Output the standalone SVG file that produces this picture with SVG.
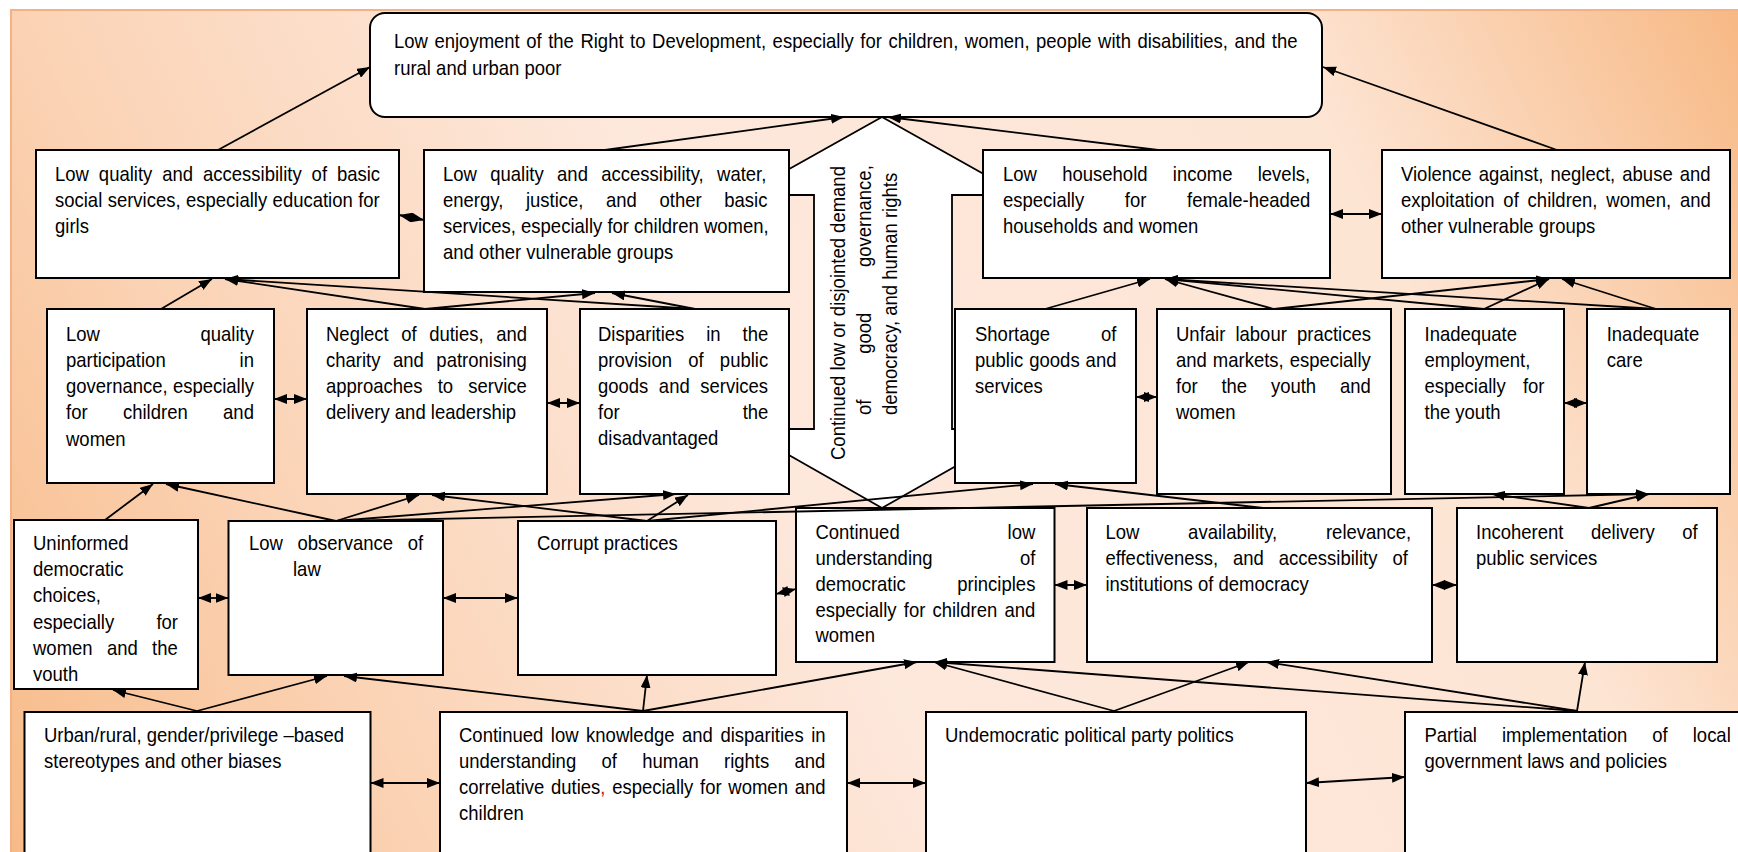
<svg xmlns="http://www.w3.org/2000/svg" width="1738" height="852" viewBox="0 0 1738 852">
<defs>
<linearGradient id="bg" gradientUnits="userSpaceOnUse" x1="11" y1="852" x2="1738" y2="10">
<stop offset="0" stop-color="#f7bb88"/>
<stop offset="0.2" stop-color="#fbd3b5"/>
<stop offset="0.45" stop-color="#fde8dc"/>
<stop offset="0.78" stop-color="#fde5d4"/>
<stop offset="1" stop-color="#f7b985"/>
</linearGradient>
<marker id="ah" viewBox="0 0 13 10" refX="13" refY="5" markerWidth="13" markerHeight="10" markerUnits="userSpaceOnUse" orient="auto-start-reverse">
<path d="M0,0 L13,5 L0,10 Z" fill="#000"/>
</marker>
<clipPath id="clipY"><rect x="14" y="520" width="184" height="161"/></clipPath>
</defs>
<style>
.box{fill:#fff;stroke:#000;stroke-width:2}
.t{font-family:"Liberation Sans",Arial,sans-serif;font-size:20px;fill:#000}
.c{stroke:#000;stroke-width:1.8;fill:none;marker-end:url(#ah)}
.d{stroke:#000;stroke-width:1.8;fill:none;marker-start:url(#ah);marker-end:url(#ah)}
</style>
<rect x="11" y="10" width="1740" height="860" fill="url(#bg)" stroke="#f4b183" stroke-width="2"/>
<g id="central-arrow">
<path d="M882,117 L1021,195 L952,195 L952,429 L1021,429 L882,508 L743,429 L814,429 L814,195 L743,195 Z" fill="#fff" stroke="#000" stroke-width="1.8"/>
<text class="t" transform="translate(845,460) rotate(-90) scale(0.925,1)">Continued low or disjointed demand</text>
<text class="t" transform="translate(871,415) rotate(-90) scale(0.925,1)" style="word-spacing:43.9px">of good governance,</text>
<text class="t" transform="translate(897,415) rotate(-90) scale(0.925,1)">democracy, and human rights</text>
</g>
<g id="n0">
<rect class="box" x="370" y="13" width="952" height="104" rx="15"/>
<text class="t" transform="translate(394,47.5) scale(0.925,1)" style="word-spacing:1.5px">Low enjoyment of the Right to Development, especially for children, women, people with disabilities, and the</text>
<text class="t" transform="translate(394,74.5) scale(0.925,1)">rural and urban poor</text>
</g>
<g id="n1">
<rect class="box" x="36" y="150" width="363" height="128"/>
<text class="t" transform="translate(55,181) scale(0.925,1)" style="word-spacing:5.2px">Low quality and accessibility of basic</text>
<text class="t" transform="translate(55,207) scale(0.925,1)" style="word-spacing:0.3px">social services, especially education for</text>
<text class="t" transform="translate(55,233) scale(0.925,1)">girls</text>
</g>
<g id="n2">
<rect class="box" x="424" y="150" width="365" height="142"/>
<text class="t" transform="translate(443,181) scale(0.925,1)" style="word-spacing:8.9px">Low quality and accessibility, water,</text>
<text class="t" transform="translate(443,207) scale(0.925,1)" style="word-spacing:18.9px">energy, justice, and other basic</text>
<text class="t" transform="translate(443,233) scale(0.925,1)">services, especially for children women,</text>
<text class="t" transform="translate(443,259) scale(0.925,1)">and other vulnerable groups</text>
</g>
<g id="n3">
<rect class="box" x="983" y="150" width="347" height="128"/>
<text class="t" transform="translate(1003,181) scale(0.925,1)" style="word-spacing:21.8px">Low household income levels,</text>
<text class="t" transform="translate(1003,207) scale(0.925,1)" style="word-spacing:38.4px">especially for female-headed</text>
<text class="t" transform="translate(1003,233) scale(0.925,1)">households and women</text>
</g>
<g id="n3b">
<rect class="box" x="1382" y="150" width="348" height="128"/>
<text class="t" transform="translate(1401,181) scale(0.925,1)" style="word-spacing:2.1px">Violence against, neglect, abuse and</text>
<text class="t" transform="translate(1401,207) scale(0.925,1)" style="word-spacing:4px">exploitation of children, women, and</text>
<text class="t" transform="translate(1401,233) scale(0.925,1)">other vulnerable groups</text>
</g>
<g id="n4">
<rect class="box" x="47" y="309" width="227" height="174"/>
<text class="t" transform="translate(66,341) scale(0.925,1)" style="word-spacing:103.2px">Low quality</text>
<text class="t" transform="translate(66,367) scale(0.925,1)" style="word-spacing:74.3px">participation in</text>
<text class="t" transform="translate(66,393) scale(0.925,1)">governance, especially</text>
<text class="t" transform="translate(66,419) scale(0.925,1)" style="word-spacing:32.7px">for children and</text>
<text class="t" transform="translate(66,446) scale(0.925,1)">women</text>
</g>
<g id="n5">
<rect class="box" x="307" y="309" width="240" height="185"/>
<text class="t" transform="translate(326,341) scale(0.925,1)" style="word-spacing:8px">Neglect of duties, and</text>
<text class="t" transform="translate(326,367) scale(0.925,1)" style="word-spacing:8px">charity and patronising</text>
<text class="t" transform="translate(326,393) scale(0.925,1)" style="word-spacing:10.8px">approaches to service</text>
<text class="t" transform="translate(326,419) scale(0.925,1)">delivery and leadership</text>
</g>
<g id="n6">
<rect class="box" x="580" y="309" width="209" height="185"/>
<text class="t" transform="translate(598,341) scale(0.925,1)" style="word-spacing:18.2px">Disparities in the</text>
<text class="t" transform="translate(598,367) scale(0.925,1)" style="word-spacing:12px">provision of public</text>
<text class="t" transform="translate(598,393) scale(0.925,1)" style="word-spacing:5.8px">goods and services</text>
<text class="t" transform="translate(598,419) scale(0.925,1)" style="word-spacing:127.5px">for the</text>
<text class="t" transform="translate(598,445) scale(0.925,1)">disadvantaged</text>
</g>
<g id="n7">
<rect class="box" x="955" y="309" width="181" height="174"/>
<text class="t" transform="translate(975,341) scale(0.925,1)" style="word-spacing:49.6px">Shortage of</text>
<text class="t" transform="translate(975,367) scale(0.925,1)" style="word-spacing:0.9px">public goods and</text>
<text class="t" transform="translate(975,393) scale(0.925,1)">services</text>
</g>
<g id="n8">
<rect class="box" x="1157" y="309" width="234" height="185"/>
<text class="t" transform="translate(1176,341) scale(0.925,1)" style="word-spacing:5.4px">Unfair labour practices</text>
<text class="t" transform="translate(1176,367) scale(0.925,1)" style="word-spacing:0.9px">and markets, especially</text>
<text class="t" transform="translate(1176,393) scale(0.925,1)" style="word-spacing:20.2px">for the youth and</text>
<text class="t" transform="translate(1176,419) scale(0.925,1)">women</text>
</g>
<g id="n9">
<rect class="box" x="1405" y="309" width="159" height="185"/>
<text class="t" transform="translate(1424.5,341) scale(0.925,1)">Inadequate</text>
<text class="t" transform="translate(1424.5,367) scale(0.925,1)">employment,</text>
<text class="t" transform="translate(1424.5,393) scale(0.925,1)" style="word-spacing:13.1px">especially for</text>
<text class="t" transform="translate(1424.5,419) scale(0.925,1)">the youth</text>
</g>
<g id="n10">
<rect class="box" x="1587" y="309" width="143" height="185"/>
<text class="t" transform="translate(1606.7,341) scale(0.925,1)">Inadequate</text>
<text class="t" transform="translate(1606.7,367) scale(0.925,1)">care</text>
</g>
<g id="n11">
<rect class="box" x="14" y="520" width="184" height="169"/>
<g clip-path="url(#clipY)">
<text class="t" transform="translate(33,550) scale(0.925,1)">Uninformed</text>
<text class="t" transform="translate(33,576) scale(0.925,1)">democratic</text>
<text class="t" transform="translate(33,602) scale(0.925,1)">choices,</text>
<text class="t" transform="translate(33,628.5) scale(0.925,1)" style="word-spacing:40.1px">especially for</text>
<text class="t" transform="translate(33,655) scale(0.925,1)" style="word-spacing:9.9px">women and the</text>
<text class="t" transform="translate(33,681) scale(0.925,1)">youth</text>
</g>
</g>
<g id="n12">
<rect class="box" x="228.5" y="521" width="214.5" height="154"/>
<text class="t" transform="translate(249,550) scale(0.925,1)" style="word-spacing:10.2px">Low observance of</text>
<text class="t" transform="translate(293,576) scale(0.925,1)">law</text>
</g>
<g id="n13">
<rect class="box" x="518" y="521" width="258" height="154"/>
<text class="t" transform="translate(537,550) scale(0.925,1)">Corrupt practices</text>
</g>
<g id="n14">
<rect class="box" x="796" y="508" width="258.5" height="154"/>
<text class="t" transform="translate(815.4,539) scale(0.925,1)" style="word-spacing:111.1px">Continued low</text>
<text class="t" transform="translate(815.4,565) scale(0.925,1)" style="word-spacing:88.9px">understanding of</text>
<text class="t" transform="translate(815.4,591) scale(0.925,1)" style="word-spacing:50.1px">democratic principles</text>
<text class="t" transform="translate(815.4,617) scale(0.925,1)" style="word-spacing:2.2px">especially for children and</text>
<text class="t" transform="translate(815.4,642) scale(0.925,1)">women</text>
</g>
<g id="n15">
<rect class="box" x="1087" y="508" width="345" height="154"/>
<text class="t" transform="translate(1105.4,539) scale(0.925,1)" style="word-spacing:47.2px">Low availability, relevance,</text>
<text class="t" transform="translate(1105.4,565) scale(0.925,1)" style="word-spacing:10.6px">effectiveness, and accessibility of</text>
<text class="t" transform="translate(1105.4,591) scale(0.925,1)">institutions of democracy</text>
</g>
<g id="n16">
<rect class="box" x="1457" y="508" width="260" height="154"/>
<text class="t" transform="translate(1476,539) scale(0.925,1)" style="word-spacing:24.3px">Incoherent delivery of</text>
<text class="t" transform="translate(1476,565) scale(0.925,1)">public services</text>
</g>
<g id="n17">
<rect class="box" x="24.5" y="712" width="346" height="190"/>
<text class="t" transform="translate(44,742) scale(0.925,1)">Urban/rural, gender/privilege –based</text>
<text class="t" transform="translate(44,768) scale(0.925,1)">stereotypes and other biases</text>
</g>
<g id="n18">
<rect class="box" x="440" y="712" width="407" height="190"/>
<text class="t" transform="translate(459,742) scale(0.925,1)" style="word-spacing:2.6px">Continued low knowledge and disparities in</text>
<text class="t" transform="translate(459,768) scale(0.925,1)" style="word-spacing:21.8px">understanding of human rights and</text>
<text class="t" transform="translate(459,794) scale(0.925,1)" style="word-spacing:1.7px">correlative duties<tspan fill="#e00000">,</tspan> especially for women and</text>
<text class="t" transform="translate(459,820) scale(0.925,1)">children</text>
</g>
<g id="n19">
<rect class="box" x="926" y="712" width="380" height="190"/>
<text class="t" transform="translate(945,742) scale(0.925,1)">Undemocratic political party politics</text>
</g>
<g id="n20">
<rect class="box" x="1405" y="712" width="400" height="190"/>
<text class="t" transform="translate(1424.5,742) scale(0.925,1)" style="word-spacing:21.5px">Partial implementation of local</text>
<text class="t" transform="translate(1424.5,768) scale(0.925,1)">government laws and policies</text>
</g>
<g id="connectors">
<line class="c" x1="218" y1="150" x2="370" y2="67"/>
<line class="c" x1="605" y1="150" x2="844" y2="117"/>
<line class="c" x1="1158" y1="150" x2="888" y2="117"/>
<line class="c" x1="1557" y1="150" x2="1323" y2="67"/>
<line class="d" x1="399" y1="215" x2="424" y2="220"/>
<line class="d" x1="1330" y1="214" x2="1382" y2="214"/>
<line class="c" x1="161" y1="309" x2="212" y2="279"/>
<line class="c" x1="425" y1="309" x2="225" y2="279"/>
<line class="c" x1="695" y1="309" x2="225" y2="279"/>
<line class="c" x1="425" y1="309" x2="595" y2="293"/>
<line class="c" x1="695" y1="309" x2="612" y2="293"/>
<line class="c" x1="1045" y1="309" x2="1150" y2="279"/>
<line class="c" x1="1274" y1="309" x2="1165" y2="279"/>
<line class="c" x1="1484" y1="309" x2="1165" y2="279"/>
<line class="c" x1="1656" y1="309" x2="1165" y2="279"/>
<line class="c" x1="1274" y1="309" x2="1549" y2="279"/>
<line class="c" x1="1484" y1="309" x2="1549" y2="279"/>
<line class="c" x1="1656" y1="309" x2="1562" y2="279"/>
<line class="d" x1="274" y1="399" x2="307" y2="399"/>
<line class="d" x1="547" y1="403" x2="580" y2="403"/>
<line class="d" x1="1136" y1="397" x2="1157" y2="397"/>
<line class="d" x1="1564" y1="403" x2="1587" y2="403"/>
<line class="c" x1="105" y1="520" x2="153" y2="484"/>
<line class="c" x1="336" y1="521" x2="166" y2="484"/>
<line class="c" x1="336" y1="521" x2="419" y2="495"/>
<line class="c" x1="647" y1="521" x2="432" y2="495"/>
<line class="c" x1="336" y1="521" x2="676" y2="494"/>
<line class="c" x1="647" y1="521" x2="688" y2="495"/>
<line class="c" x1="647" y1="521" x2="1033" y2="484"/>
<line class="c" x1="1263" y1="508" x2="1055" y2="484"/>
<line class="c" x1="336" y1="521" x2="1649" y2="494"/>
<line class="c" x1="1589" y1="508" x2="1492" y2="494"/>
<line class="c" x1="1589" y1="508" x2="1649" y2="494"/>
<line class="d" x1="198" y1="598" x2="228.5" y2="598"/>
<line class="d" x1="443" y1="598" x2="518" y2="598"/>
<line class="d" x1="776" y1="594" x2="796" y2="589"/>
<line class="d" x1="1054.5" y1="585" x2="1087" y2="585"/>
<line class="d" x1="1432" y1="585" x2="1457" y2="585"/>
<line class="c" x1="197" y1="711" x2="113" y2="690"/>
<line class="c" x1="197" y1="711" x2="327" y2="676"/>
<line class="c" x1="643" y1="711" x2="344" y2="676"/>
<line class="c" x1="643" y1="711" x2="647" y2="675"/>
<line class="c" x1="643" y1="711" x2="917" y2="662"/>
<line class="c" x1="1114" y1="711" x2="934" y2="662"/>
<line class="c" x1="1577" y1="711" x2="934" y2="662"/>
<line class="c" x1="1114" y1="711" x2="1249" y2="662"/>
<line class="c" x1="1577" y1="711" x2="1266" y2="662"/>
<line class="c" x1="1577" y1="711" x2="1585" y2="662"/>
<line class="d" x1="370.5" y1="783" x2="440" y2="783"/>
<line class="d" x1="847" y1="783" x2="926" y2="783"/>
<line class="d" x1="1306" y1="783" x2="1405" y2="777"/>
</g>
</svg>
